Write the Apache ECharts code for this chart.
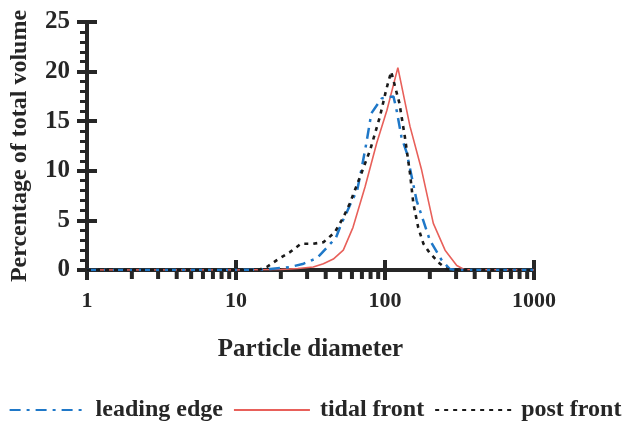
<!DOCTYPE html>
<html>
<head>
<meta charset="utf-8">
<script src="https://cdn.jsdelivr.net/npm/echarts@6/dist/echarts.min.js"></script>
<style>
  html, body { margin: 0; padding: 0; background: #fff; }
  #chart { width: 630px; height: 424px; }
</style>
</head>
<body>
<div id="chart"></div>
<script>
// Particle size distributions: [diameter, percentage of total volume]
const leadingEdge = [
  [1, 0], [10, 0], [15, 0.05], [17, 0.1], [20, 0.2], [23, 0.3], [28, 0.6], [35, 1.2],
  [41, 2.3], [47, 3.3], [51, 4.7], [55, 5.7], [60, 7.0], [65, 8.0], [70, 10.4],
  [75, 12.8], [81, 15.8], [95, 17.3], [114, 17.5], [120, 16.0], [129, 13.4],
  [140, 11.8], [163, 7.0], [200, 3.0], [240, 1.0], [272, 0.1], [300, 0], [1000, 0]
];
const tidalFront = [
  [1, 0], [10, 0], [20, 0.05], [26, 0.15], [33, 0.3], [38.6, 0.63], [45, 1.1],
  [52.5, 2.0], [61, 4.3], [73.5, 8.4], [88, 12.8], [103, 16.1], [122, 20.4],
  [147, 14.5], [176, 10.1], [211, 4.7], [253, 2.0], [303, 0.45], [340, 0.05], [1000, 0]
];
const postFront = [
  [1, 0], [10, 0], [14, 0], [16.1, 0.3], [18.8, 1.0], [23, 1.8], [27.3, 2.65],
  [33, 2.65], [38.6, 2.8], [46, 3.8], [52.5, 5.3], [58, 6.7], [68, 9.4], [79.5, 12.1],
  [92.6, 15.5], [102, 18.2], [110, 20.0], [125, 16.8], [136, 13.4], [147, 9.8],
  [155, 6.7], [167, 4.3], [181, 2.65], [200, 1.7], [233, 0.65], [260, 0.1], [300, 0], [1000, 0]
];
const seriesNames = ['leading edge', 'tidal front', 'post front'];
const xTickLabels = ['1', '10', '100', '1000'];
// intermediate log-decade ticks (2..9 within each decade)
const xMinorTicks = [2, 3, 4, 5, 6, 7, 8, 9, 20, 30, 40, 50, 60, 70, 80, 90, 200, 300, 400, 500, 600, 700, 800, 900];

const ink = '#262626';
const serif = '"Liberation Serif", "DejaVu Serif", serif';

const chart = echarts.init(document.getElementById('chart'), null, { renderer: 'canvas' });

chart.setOption({
  animation: false,
  backgroundColor: '#fff',
  grid: { left: 87, right: 96, top: 22, bottom: 154 },
  legend: {
    top: 393,
    left: 'center',
    itemWidth: 76,
    itemHeight: 10,
    itemGap: 10,
    data: seriesNames,
    itemStyle: { opacity: 0 },
    textStyle: {
      fontFamily: serif, fontWeight: 'bold', fontSize: 24, color: ink,
      padding: [0, 0, 0, 5]
    }
  },
  xAxis: [
    {
      type: 'log', logBase: 10, min: 1, max: 1000,
      name: 'Particle diameter', nameLocation: 'middle', nameGap: 67,
      nameTextStyle: { fontFamily: serif, fontWeight: 'bold', fontSize: 25, color: ink },
      axisLine: { lineStyle: { color: ink, width: 4 } },
      axisTick: { length: 10, lineStyle: { color: ink, width: 4 } },
      axisLabel: {
        margin: 20, fontFamily: serif, fontWeight: 'bold', fontSize: 22, color: ink,
        formatter: function (v) {
          const i = Math.round(Math.log10(v));
          return xTickLabels[i] !== undefined ? xTickLabels[i] : '';
        }
      },
      splitLine: { show: false }
    },
    {
      type: 'log', logBase: 10, min: 1, max: 1000, position: 'bottom', offset: 0,
      axisLine: { show: false },
      axisTick: { inside: true, length: 10, lineStyle: { color: ink, width: 4 } },
      axisLabel: { show: false },
      splitLine: { show: false }
    }
  ],
  yAxis: [
    {
      type: 'value', min: 0, max: 25, interval: 5,
      name: 'Percentage of total volume', nameLocation: 'middle', nameGap: 55,
      nameTextStyle: { fontFamily: serif, fontWeight: 'bold', fontSize: 24, color: ink },
      axisLine: { show: true, lineStyle: { color: ink, width: 4 } },
      axisTick: { show: true, length: 10, lineStyle: { color: ink, width: 4 } },
      minorTick: { show: true, splitNumber: 5, length: 7, lineStyle: { color: ink, width: 3 } },
      axisLabel: { margin: 17, fontFamily: serif, fontWeight: 'bold', fontSize: 25, color: ink },
      splitLine: { show: false }
    },
    {
      type: 'value', min: 0, max: 25, interval: 5, position: 'left', offset: 0,
      axisLine: { show: false },
      axisTick: { show: true, inside: true, length: 10, lineStyle: { color: ink, width: 4 } },
      axisLabel: { show: false },
      splitLine: { show: false }
    }
  ],
  series: [
    {
      name: seriesNames[0], type: 'line', data: leadingEdge, symbol: 'none', z: 3,
      lineStyle: { color: '#1f78c8', width: 2.5, type: [11, 6, 3, 6] },
      itemStyle: { color: '#1f78c8' }
    },
    {
      name: seriesNames[1], type: 'line', data: tidalFront, symbol: 'none', z: 2,
      lineStyle: { color: '#e8605a', width: 1.6, type: 'solid' },
      itemStyle: { color: '#e8605a' }
    },
    {
      name: seriesNames[2], type: 'line', data: postFront, symbol: 'none', z: 4,
      lineStyle: { color: '#1a1a1a', width: 2.6, type: [4, 5] },
      itemStyle: { color: '#1a1a1a' }
    },
    {
      // minor ticks of the logarithmic diameter axis
      type: 'scatter', silent: true, z: 1,
      data: xMinorTicks.map(function (v) { return [v, 0]; }),
      symbol: 'rect', symbolSize: [4, 8], symbolOffset: [0, 5],
      itemStyle: { color: ink, opacity: 1 },
      clip: false
    }
  ]
});
</script>
</body>
</html>
